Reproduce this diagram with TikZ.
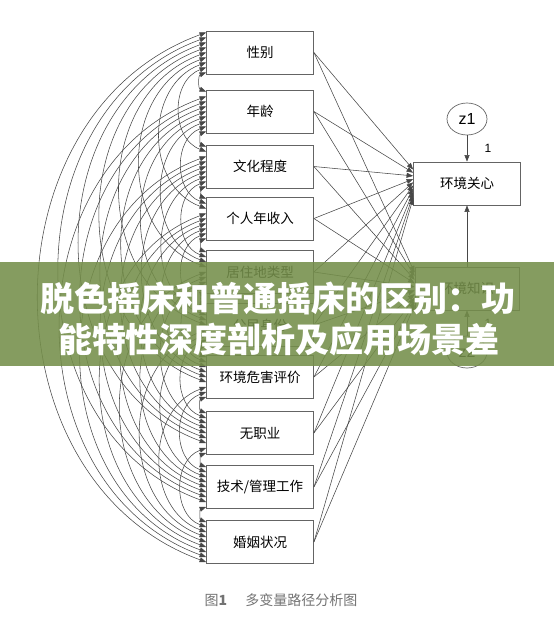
\documentclass[tikz,border=0pt]{standalone}
\usepackage{fontspec}
\setmainfont{Liberation Sans}
\newfontfamily\cjk{Noto Sans CJK SC}
\usetikzlibrary{arrows.meta,calc,positioning,shapes.geometric}
\definecolor{bannergreen}{RGB}{116,142,74}
\definecolor{boxgray}{RGB}{100,100,100}
\tikzset{
  varbox/.style={draw=boxgray,line width=0.8pt,minimum width=107pt,minimum height=43pt,inner sep=0pt,font=\cjk\fontsize{13.5}{13.5}\selectfont},
  errnode/.style={ellipse,draw=boxgray,line width=0.7pt,minimum width=40pt,minimum height=32pt,inner sep=0pt,font=\fontsize{16}{16}\selectfont},
  covarc/.style={<->,line width=0.55pt,draw=black!72},
  pathline/.style={->,line width=0.55pt,draw=black!72},
  bannertext/.style={text=white,font=\cjk\bfseries\fontsize{34}{34}\selectfont}
}

\begin{document}
\begin{tikzpicture}[x=1pt,y=-1pt,>={Triangle[length=6.5pt,width=5pt]}]
\useasboundingbox (0,0) rectangle (554,630);
% exogenous variables
\foreach \k/\yy/\txt in {1/52.5/性别,2/111.5/年龄,3/166.5/文化程度,4/218.5/个人年收入,5/272/居住地类型,
  6/325/公民身份,7/377/环境危害评价,8/433/无职业,9/487/{技术/管理工作},10/542/婚姻状况}
  \node[varbox] (b\k) at (260,\yy) {\txt};
% endogenous variables and errors
\node[varbox] (gj) at (467,183.5) {环境关心};
\node[varbox,minimum width=104pt] (zs) at (467,288.5) {环境知识};
\node[errnode] (z1) at (467,119) {z1};
\node[errnode] (z2) at (467,352) {z2};
\draw[pathline] (z1) -- (gj) node[midway,right=14pt,font=\fontsize{12}{12}\selectfont]{1};
\draw[pathline] (z2) -- (zs) node[midway,right=14pt,font=\fontsize{12}{12}\selectfont]{1};
\draw[pathline] (zs) -- (gj);
% paths to the two outcomes
\foreach \k in {1,...,10}{
  \draw[pathline] (b\k.east) -- ([yshift={14-3.2*(\k-1)}]gj.west);
  \draw[pathline] (b\k.east) -- ([yshift={16-3.6*(\k-1)}]zs.west);
}
% covariances between the exogenous variables
\foreach \i in {1,...,9}{
  \pgfmathtruncatemacro\inext{\i+1}
  \foreach \j in {\inext,...,10}{
    \pgfmathsetmacro\ya{5*(4-(9-(\j-\i)))}
    \pgfmathsetmacro\yb{5*(4-(\j-1-\i))}
    \draw[covarc] ([yshift=\ya pt]b\i.west) to[bend right=70,looseness=1.15] ([yshift=\yb pt]b\j.west);
  }
}
\node[font=\cjk\fontsize{14}{14}\selectfont,text=black!55] (cap) at (281,600) {图\textbf{1}\hspace{1.3em}多变量路径分析图};
% overlay band
\fill[bannergreen,opacity=0.88] (0,262) rectangle (554,366);
\node[bannertext] (t1) at (278,298) {脱色摇床和普通摇床的区别：功};
\node[bannertext] (t2) at (279,340) {能特性深度剖析及应用场景差};
\end{tikzpicture}
\end{document}
